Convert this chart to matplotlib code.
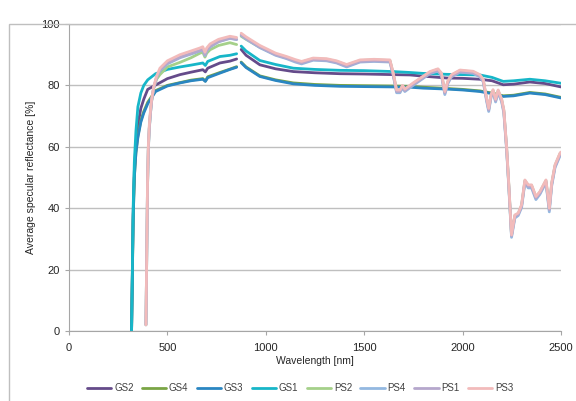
import numpy as np
import matplotlib.pyplot as plt
from matplotlib.patches import Rectangle

plt.rcParams['font.family'] = ['Liberation Sans', 'DejaVu Sans']

nan = np.nan

# wavelength grids [nm]; nan marks the detector change gap
wl_gs = [318, 322, 326, 332, 340, 350, 365, 380, 400, 440,
         500, 564, 620, 680, 693, 705, 767, 818, 852, 862,
         875, 900, 970, 1050, 1140, 1250, 1377, 1500, 1648, 1733,
         1800, 1919, 2000, 2088, 2150, 2207, 2260, 2342, 2420, 2500]

gs1 = [0, 20, 40, 55, 65, 73, 77.5, 80, 81.8, 83.8,
       85.2, 86.0, 86.6, 87.3, 86.5, 87.8, 89.4, 89.8, 90.3, nan,
       92.8, 91.2, 88.1, 86.8, 85.6, 85.2, 84.9, 84.8, 84.5, 84.2,
       83.9, 83.6, 83.5, 83.4, 82.6, 81.3, 81.5, 82.0, 81.5, 80.7]
gs2 = [0, 19, 38, 52, 61, 67, 72.5, 75.5, 78.7, 80.1,
       82.2, 83.5, 84.3, 85.1, 84.4, 85.6, 87.3, 87.9, 88.6, nan,
       91.7, 89.8, 86.7, 85.4, 84.5, 84.1, 83.8, 83.7, 83.5, 83.4,
       83.0, 82.4, 82.3, 82.0, 81.5, 80.2, 80.4, 81.1, 80.6, 79.5]
gs3 = [0, 18, 36, 50, 58, 63, 68, 71, 74, 78.0,
       79.8, 80.8, 81.5, 82.0, 81.3, 82.5, 84.0, 85.2, 85.9, nan,
       87.4, 85.8, 82.9, 81.6, 80.5, 80.0, 79.7, 79.6, 79.5, 79.4,
       79.1, 78.8, 78.5, 78.0, 77.3, 76.4, 76.6, 77.5, 77.0, 75.9]
gs4 = [0, 18, 36, 50, 58, 63.5, 68.5, 71.5, 74.5, 78.3,
       80.0, 80.9, 81.7, 82.2, 81.4, 82.8, 84.2, 85.3, 86.1, nan,
       87.6, 86.0, 83.1, 81.8, 80.8, 80.3, 80.0, 79.9, 79.8, 79.7,
       79.4, 79.0, 78.7, 78.2, 77.5, 76.6, 76.8, 77.7, 77.2, 76.1]

wl_ps = [391, 395, 399, 403, 408, 414, 420, 430, 445, 462,
         500, 564, 620, 666, 680, 691, 700, 717, 760, 818,
         852, 862, 875, 900, 970, 1050, 1106, 1150, 1182, 1241,
         1309, 1360, 1411, 1479, 1550, 1631, 1648, 1665, 1682, 1695,
         1707, 1749, 1800, 1834, 1875, 1893, 1910, 1926, 1944, 1987,
         2054, 2088, 2105, 2122, 2133, 2145, 2155, 2168, 2181, 2199,
         2210, 2224, 2235, 2249, 2266, 2283, 2300, 2317, 2334, 2351,
         2373, 2393, 2424, 2441, 2453, 2470, 2495, 2500]

ps3 = [2, 25, 48, 60, 67, 72, 75.5, 79.5, 83, 85.6,
       88, 90, 91.2, 92.2, 92.6, 90.8, 92.2, 93.5, 95, 96,
       95.6, nan, 97, 95.8, 93, 90.5, 89.4, 88.4, 87.8, 88.9,
       88.7, 88, 86.8, 88.3, 88.5, 88.3, 84, 78.5, 78.5, 80,
       78.8, 80.8, 83, 84.5, 85.4, 84, 78, 81.5, 83.5, 85,
       84.6, 83.5, 82, 76, 72.5, 77, 78.6, 75.5, 78.5, 75.5,
       72, 60, 48, 31.3, 37.8, 38.4, 41.1, 49.2, 47.6, 47.6,
       43.8, 45.4, 49.2, 40, 48.2, 54.1, 57.9, 58.3]
ps1 = [2, 24, 47, 59, 66, 71, 75, 79, 82.7, 85,
       87.3, 89.2, 90.4, 91.4, 91.8, 90, 91.4, 92.7, 94.3, 95.4,
       95, nan, 96.5, 95.3, 92.5, 90, 88.9, 87.9, 87.3, 88.4,
       88.2, 87.5, 86.3, 87.8, 88, 87.8, 83.5, 78, 78, 79.5,
       78.3, 80.3, 82.5, 84, 84.9, 83.5, 77.5, 81, 83, 84.5,
       84.1, 83, 81.5, 75.5, 72, 76.5, 78.1, 75, 78, 75,
       71.5, 59.5, 47.5, 31, 37.3, 38, 40.6, 48.7, 47.1, 47.1,
       43.3, 44.9, 48.7, 39.5, 47.7, 53.6, 57.4, 57.8]
ps4 = [2, 24, 47, 59, 66, 71, 75, 79, 82.5, 84.8,
       87, 89, 90.2, 91.2, 91.6, 89.7, 91.2, 92.5, 94.2, 95.3,
       94.9, nan, 96.3, 95.1, 92.3, 89.8, 88.7, 87.6, 87, 88.2,
       88, 87.3, 86, 87.6, 87.8, 87.6, 83.2, 77.6, 77.6, 79.2,
       78, 80, 82.3, 83.8, 84.7, 83.2, 77, 80.7, 82.8, 84.3,
       83.9, 82.8, 81.2, 75, 71.5, 76.2, 77.8, 74.6, 77.7, 74.6,
       71, 59, 47, 30.5, 36.8, 37.6, 40.2, 48.3, 46.6, 46.6,
       42.8, 44.5, 48.3, 38.8, 47.2, 53.2, 57, 57.5]
ps2 = [2, 24, 47, 59, 66, 71, 75, 79, 82, 83.5,
       86, 87.5, 89, 90.5, 90.8, 89.2, 90.5, 91.6, 93, 93.9,
       93.3, nan, 96, 95, 92.4, 90.1, 89.1, 88.1, 87.6, 88.7,
       88.5, 87.8, 86.6, 88.1, 88.3, 88.1, 83.8, 78.3, 78.3, 79.8,
       78.6, 80.6, 82.8, 84.3, 85.2, 83.8, 77.8, 81.3, 83.3, 84.8,
       84.4, 83.3, 81.8, 75.8, 72.3, 76.8, 78.4, 75.3, 78.3, 75.3,
       71.8, 59.8, 47.8, 31.2, 37.6, 38.2, 40.9, 49, 47.4, 47.4,
       43.6, 45.2, 49, 39.8, 48, 53.9, 57.7, 58.1]

series = [
    ('GS2', wl_gs, gs2, '#654B8A'),
    ('GS4', wl_gs, gs4, '#7AA545'),
    ('GS3', wl_gs, gs3, '#2A86C2'),
    ('GS1', wl_gs, gs1, '#17B6C8'),
    ('PS2', wl_ps, ps2, '#A5D08A'),
    ('PS4', wl_ps, ps4, '#93B8E0'),
    ('PS1', wl_ps, ps1, '#B5A7CC'),
    ('PS3', wl_ps, ps3, '#F2BBBB'),
]

fig = plt.figure(figsize=(5.76, 4.01), dpi=100)
ax = fig.add_axes([0.1198, 0.1746, 0.854, 0.7656])

for name, wl, vals, col in series:
    ax.plot(wl, vals, color=col, linewidth=2.0, label=name,
            solid_joinstyle='round', solid_capstyle='round')

ax.set_xlim(0, 2500)
ax.set_ylim(0, 100)
ax.set_xticks(range(0, 2501, 500))
ax.set_yticks(range(0, 101, 20))
ax.yaxis.grid(True, color='#BFBFBF', linewidth=1.0)
ax.set_axisbelow(True)
for s in ['top', 'right']:
    ax.spines[s].set_visible(False)
for s in ['left', 'bottom']:
    ax.spines[s].set_color('#A6A6A6')
ax.tick_params(axis='both', colors='#A6A6A6', labelcolor='#262626',
               labelsize=8, length=3)
ax.tick_params(axis='x', pad=6)
ax.set_xlabel('Wavelength [nm]', fontsize=7.5, color='#262626', labelpad=2)
ax.set_ylabel('Average specular reflectance [%]', fontsize=7.5,
              color='#262626', labelpad=4)

fig.legend(loc='center', bbox_to_anchor=(0.521, 0.032), ncol=8,
           frameon=False, fontsize=7, handlelength=2.5,
           handletextpad=0.3, columnspacing=0.85)
for t in fig.legends[0].get_texts():
    t.set_color('#404040')

fig.patches.append(Rectangle((9 / 576, -0.1), 1.2, 1.07 - 12 / 401,
                             transform=fig.transFigure, fill=False,
                             edgecolor='#BFBFBF', linewidth=1.0))

fig.savefig('out.png', dpi=100)
